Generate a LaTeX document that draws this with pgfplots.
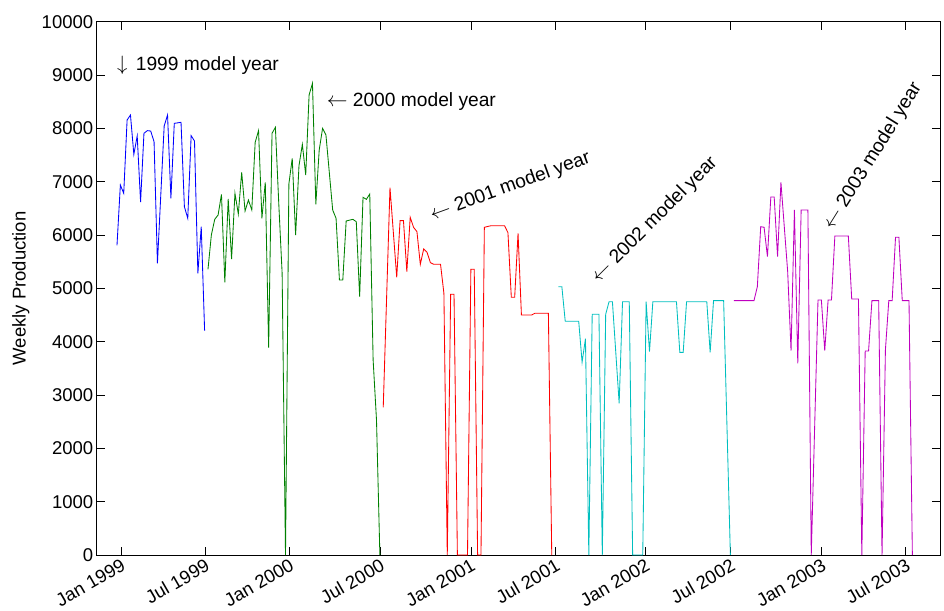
\documentclass[border=0pt]{standalone}
\usepackage{fontspec}
\setmainfont{Liberation Sans}
\usepackage{pgfplots}
\pgfplotsset{compat=1.18}
\newcommand\fs{\fontsize{18.5}{22}\selectfont}
\newcommand\fa{\fontsize{19.2}{23}\selectfont}
\definecolor{mblue}{rgb}{0,0,1}
\definecolor{mgreen}{rgb}{0,0.5,0}
\definecolor{mred}{rgb}{1,0,0}
\definecolor{mcyan}{rgb}{0,0.75,0.75}
\definecolor{mmag}{rgb}{0.75,0,0.75}
\begin{document}
\begin{tikzpicture}[font=\fs]
\begin{axis}[
  scale only axis, width=843.3pt, height=533.3pt,
  xmin=-6.02, xmax=244.2, ymin=0, ymax=10000,
  xtick={1.19,26.11,51.19,78.04,105.04,130.12,156.8,182.05,209.05,233.98},
  xticklabels={Jan 1999,Jul 1999,Jan 2000,Jul 2000,Jan 2001,Jul 2001,Jan 2002,Jul 2002,Jan 2003,Jul 2003},
  ytick={0,1000,...,10000},
  scaled y ticks=false,
  /pgf/number format/1000 sep={},
  /pgf/number format/assume math mode=true,
  tick align=inside,
  major tick length=8pt,
  tick style={black, line width=0.7pt},
  axis line style={line width=1pt},
  xticklabel style={rotate=30, anchor=north east, inner sep=2pt},
  ylabel={Weekly Production},
  ylabel style={at={(axis description cs:-0.0844,0.5)}, anchor=base},
  tick label style={font=\fs},
  label style={font=\fs},
  clip=false,
  every axis plot/.append style={line width=0.85pt},
]
\coordinate (sw) at (rel axis cs:0,0);
\coordinate (ne) at (rel axis cs:1,1);
% 1999 model year
\addplot[mblue] coordinates {
(0,5807)(1,6938)(2,6782)(3,8157)(4,8250)(5,7513)(6,7857)(7,6619)(8,7907)(9,7957)
(10,7950)(11,7750)(12,5470)(14,8044)(15,8250)(16,6688)(17,8094)(19,8113)(20,6531)
(21,6313)(22,7863)(23,7763)(24,5282)(25,6156)(26,4206)};
% 2000 model year
\addplot[mgreen] coordinates {
(27,5357)(28,6000)(29,6294)(30,6375)(31,6763)(32,5113)(33,6675)(34,5550)(35,6782)
(36,6394)(37,7176)(38,6450)(39,6657)(40,6469)(41,7738)(42,7957)(43,6313)(44,6988)
(45,3887)(46,7907)(47,8019)(48,6594)(49,5282)(50,0)(51,6957)(52,7438)(53,6000)
(54,7300)(55,7700)(56,7125)(57,8625)(58,8844)(59,6576)(60,7594)(61,8000)(62,7875)
(64,6469)(65,6313)(66,5156)(67,5156)(68,6263)(70,6294)(71,6250)(72,4844)(73,6707)
(74,6669)(75,6769)(76,3656)(77,2531)(78,0)};
% 2001 model year
\addplot[mred] coordinates {
(79,2769)(81,6888)(83,5207)(84,6269)(85,6269)(86,5313)(87,6332)(88,6144)(89,6063)
(90,5451)(91,5738)(92,5676)(93,5481)(94,5451)(96,5451)(97,4907)(98,0)(99,4888)
(100,4888)(101,0)(104,0)(105,5357)(106,5357)(107,0)(108,0)(109,6144)(110,6160)
(111,6175)(115,6175)(116,6044)(117,4832)(118,4832)(119,6032)(120,4500)(123,4500)
(124,4532)(128,4532)(129,0)};
% 2002 model year
\addplot[mcyan] coordinates {
(131,5031)(132,5031)(133,4382)(137,4382)(138,3613)(139,4057)(140,0)(141,4513)
(143,4513)(144,0)(145,4513)(146,4750)(147,4750)(149,2844)(150,4750)(152,4750)
(153,0)(156,0)(157,4750)(158,3813)(159,4750)(166,4750)(167,3800)(168,3800)
(169,4750)(175,4750)(176,3800)(177,4769)(180,4769)(182,0)};
% 2003 model year
\addplot[mmag] coordinates {
(183,4769)(189,4769)(190,5031)(191,6157)(192,6145)(193,5594)(194,6713)(195,6713)
(196,5594)(197,6988)(199,5313)(200,3831)(201,6469)(202,3594)(203,6469)(205,6469)
(206,0)(208,4782)(209,4782)(210,3831)(211,4782)(212,4782)(213,5982)(217,5982)
(218,4800)(220,4800)(221,0)(222,3825)(223,3825)(224,4769)(226,4769)(227,0)
(228,3844)(229,4769)(230,4769)(231,5957)(232,5957)(233,4769)(235,4769)(236,0)};
\node[anchor=base west, inner sep=0, font=\fa] at (axis cs:0,9081) {$\downarrow$\hspace{3pt} 1999 model year};
\node[anchor=base west, inner sep=0, font=\fa] at (axis cs:62.2,8406) {$\leftarrow$ 2000 model year};
\node[anchor=base west, inner sep=0, font=\fa, rotate=20] at (axis cs:93.6,6276) {$\leftarrow$ 2001 model year};
\node[anchor=base west, inner sep=0, font=\fa, rotate=45] at (axis cs:142.8,5095) {$\leftarrow$ 2002 model year};
\node[anchor=base west, inner sep=0, font=\fa, rotate=58] at (axis cs:212.2,6081) {$\leftarrow$ 2003 model year};
\end{axis}
\pgfresetboundingbox
\path[use as bounding box] ([shift={(-96.7pt,-55pt)}]sw) rectangle ([shift={(4pt,21.7pt)}]ne);
\end{tikzpicture}
\end{document}
